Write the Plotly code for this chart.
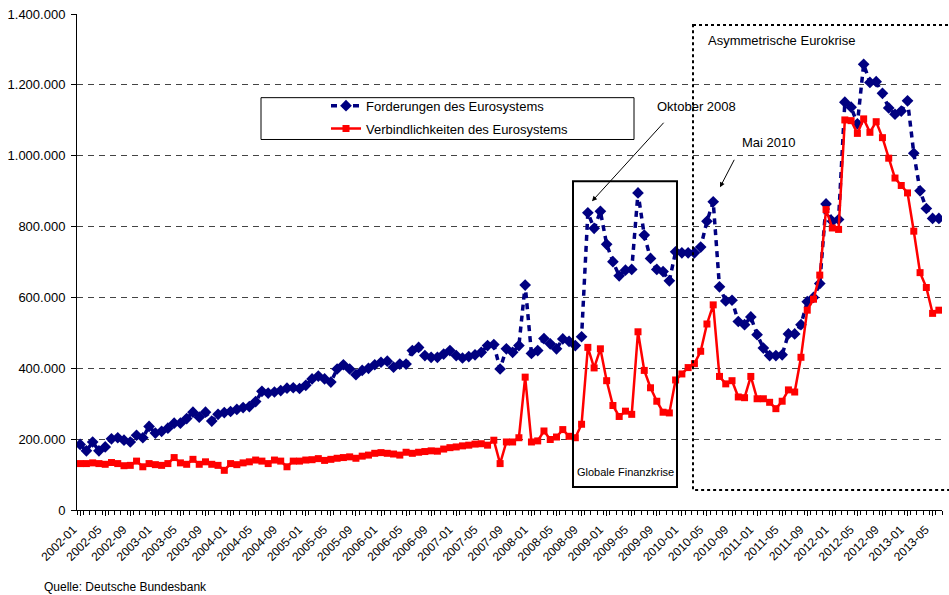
import plotly.graph_objects as go

# ---- data ----
start_year, start_month, n_months = 2002, 1, 138
months = []
y_, m_ = start_year, start_month
for _ in range(n_months):
    months.append(f"{y_}-{m_:02d}")
    m_ += 1
    if m_ > 12:
        m_ = 1
        y_ += 1

forderungen_k = [
    185, 167, 192, 167, 178, 201, 204, 197, 192, 211, 204, 236,
    217, 222, 231, 245, 245, 258, 276, 262, 276, 251, 270, 275,
    278, 284, 289, 292, 306, 335, 330, 333, 337, 344, 345, 343,
    352, 370, 378, 370, 361, 398, 410, 398, 382, 394, 400, 410,
    417, 420, 403, 412, 412, 450, 459, 436, 431, 431, 440, 450,
    436, 429, 433, 438, 445, 464, 467, 398, 455, 445, 464, 635,
    442, 450, 484, 469, 455, 483, 476, 464, 489, 839, 795, 843,
    750, 701, 661, 677, 679, 895, 776, 710, 679, 673, 647, 729,
    726, 726, 726, 742, 815, 870, 630, 590, 592, 532, 523, 545,
    495, 457, 436, 436, 438, 497, 497, 523, 588, 600, 639, 864,
    815, 820, 1151, 1137, 1090, 1258, 1207, 1209, 1176, 1135, 1117, 1126,
    1155, 1007, 901, 851, 823, 823,
]

verbindlichkeiten_k = [
    131, 131, 133, 131, 129, 134, 131, 125, 126, 138, 122, 131,
    128, 126, 131, 148, 133, 129, 143, 129, 136, 129, 126, 112,
    131, 128, 133, 136, 141, 138, 131, 141, 138, 122, 138, 138,
    141, 142, 145, 140, 143, 146, 148, 150, 146, 152, 155, 160,
    162, 160, 158, 155, 163, 160, 163, 165, 167, 166, 172, 176,
    178, 181, 183, 186, 187, 183, 197, 131, 192, 192, 204, 375,
    192, 195, 223, 199, 206, 227, 208, 204, 242, 459, 401, 455,
    365, 295, 264, 279, 270, 503, 394, 345, 307, 276, 274, 367,
    384, 402, 413, 448, 525, 579, 377, 356, 365, 319, 317, 377,
    314, 314, 304, 286, 307, 339, 333, 431, 564, 595, 663, 848,
    796, 792, 1101, 1099, 1063, 1104, 1066, 1096, 1051, 993, 937, 916,
    895, 787, 670, 628, 555, 564,
]

forderungen = [v * 1000 for v in forderungen_k]
verbindlichkeiten = [v * 1000 for v in verbindlichkeiten_k]

series_names = ["Forderungen des Eurosystems", "Verbindlichkeiten des Eurosystems"]
y_ticks = [0, 200000, 400000, 600000, 800000, 1000000, 1200000, 1400000]
label_step = 4

# ---- figure ----
x_idx = list(range(len(months)))
tick_idx = x_idx[::label_step]
tick_txt = months[::label_step]

FONT = "Liberation Sans, Arial, sans-serif"
W, H = 949, 595
L, R, T, B = 77, 7, 12, 85
PW, PH = W - L - R, H - T - B


def px(xp):
    return (xp - L) / PW


def py(yp):
    return (H - B - yp) / PH


fig = go.Figure()
fig.add_trace(go.Scatter(
    x=x_idx, y=forderungen, name=series_names[0], mode="lines+markers",
    legendgroup="a",
    line=dict(color="#000080", width=3.5, dash="6px,5px"),
    marker=dict(symbol="diamond", size=9, color="#000080"),
))
fig.add_trace(go.Scatter(
    x=x_idx, y=verbindlichkeiten, name=series_names[1], mode="lines+markers",
    legendgroup="b",
    line=dict(color="#FF0000", width=2.5),
    marker=dict(symbol="square", size=7, color="#FF0000"),
))

fig.update_layout(
    width=W, height=H,
    margin=dict(l=L, r=R, t=T, b=B),
    paper_bgcolor="white", plot_bgcolor="white",
    font=dict(family=FONT, size=13, color="black"),
    separators=",.",
    showlegend=True,
    legend=dict(
        x=px(326), y=py(89), xanchor="left", yanchor="top",
        bgcolor="rgba(0,0,0,0)", borderwidth=0,
        font=dict(size=13), tracegroupgap=3,
    ),
    xaxis=dict(
        range=[-0.5, len(months) - 0.5],
        tickmode="array", tickvals=tick_idx, ticktext=tick_txt,
        tickangle=-45, tickfont=dict(size=12),
        ticklabelshift=-7, ticklabelstandoff=2,
        showgrid=False, zeroline=False,
        showline=True, linecolor="black", linewidth=1,
        ticks="outside", ticklen=5, tickcolor="black",
        minor=dict(dtick=1, tick0=-0.5, ticks="outside", ticklen=4,
                   tickcolor="black", showgrid=False),
    ),
    yaxis=dict(
        range=[0, 1400000],
        tickmode="array", tickvals=y_ticks, tickformat=",d",
        tickfont=dict(size=13), ticklabelstandoff=3,
        showgrid=True, gridcolor="#444444", gridwidth=1, griddash="6px,5px",
        zeroline=False,
        showline=True, linecolor="black", linewidth=1,
        ticks="outside", ticklen=5, tickcolor="black",
    ),
)

shapes = []
# legend frame
shapes.append(dict(type="rect", xref="paper", yref="paper",
                   x0=px(261), x1=px(634), y0=py(96), y1=py(138),
                   line=dict(color="black", width=1), fillcolor="rgba(0,0,0,0)"))
# Globale Finanzkrise box
shapes.append(dict(type="rect", xref="paper", yref="paper",
                   x0=px(573), x1=px(677), y0=py(180), y1=py(487),
                   line=dict(color="black", width=2), fillcolor="rgba(0,0,0,0)"))
# Asymmetrische Eurokrise dotted box
shapes.append(dict(type="rect", xref="paper", yref="paper",
                   x0=px(693), x1=px(952), y0=py(23), y1=py(490),
                   line=dict(color="black", width=2, dash="dot"), fillcolor="rgba(0,0,0,0)"))
fig.update_layout(shapes=shapes)

ann = []
ann.append(dict(xref="paper", yref="paper", x=px(625), y=py(472), text="Globale Finanzkrise",
                showarrow=False, font=dict(size=11), xanchor="center", yanchor="middle"))
ann.append(dict(xref="paper", yref="paper", x=px(706), y=py(39), text="Asymmetrische Eurokrise",
                showarrow=False, font=dict(size=13), xanchor="left", yanchor="middle"))
ann.append(dict(xref="paper", yref="paper", x=px(655), y=py(105), text="Oktober 2008",
                showarrow=False, font=dict(size=13), xanchor="left", yanchor="middle"))
ann.append(dict(xref="paper", yref="paper", x=px(740), y=py(141), text="Mai 2010",
                showarrow=False, font=dict(size=13), xanchor="left", yanchor="middle"))
# arrows
ann.append(dict(xref="paper", yref="paper", x=px(592), y=py(200), text="",
                showarrow=True, axref="pixel", ayref="pixel", ax=73, ay=-80,
                arrowhead=2, arrowsize=1, arrowwidth=1, arrowcolor="black"))
ann.append(dict(xref="paper", yref="paper", x=px(720), y=py(186), text="",
                showarrow=True, axref="pixel", ayref="pixel", ax=15, ay=-29,
                arrowhead=2, arrowsize=1, arrowwidth=1, arrowcolor="black"))
ann.append(dict(xref="paper", yref="paper", x=px(42), y=py(587), text="Quelle: Deutsche Bundesbank",
                showarrow=False, font=dict(size=12), xanchor="left", yanchor="middle"))
fig.update_layout(annotations=ann)

fig.write_html(
    "out.html",
    config={"displayModeBar": False},
    post_script="document.body.style.margin='0';document.body.style.overflow='hidden';",
)
